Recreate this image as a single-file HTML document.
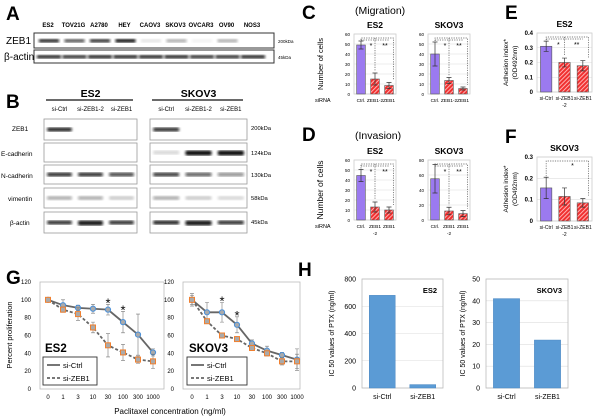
<!DOCTYPE html>
<html><head><meta charset="utf-8"><style>
body{margin:0;background:#fff}
svg{display:block;font-family:"Liberation Sans",sans-serif}
</style></head><body>
<svg id="fig" width="600" height="419" viewBox="0 0 600 419" xmlns="http://www.w3.org/2000/svg">
<defs>
<pattern id="hatch" width="3" height="3" patternUnits="userSpaceOnUse" patternTransform="rotate(45)">
<rect width="3" height="3" fill="#f03030"/><rect width="1" height="3" fill="#ffb0b0"/>
</pattern>
<filter id="blur1"><feGaussianBlur stdDeviation="1.2"/></filter>
</defs>
<g font-weight="bold" font-size="19">
<text x="6" y="20">A</text>
<text x="6" y="108">B</text>
<text x="302" y="19">C</text>
<text x="302" y="141">D</text>
<text x="505" y="19">E</text>
<text x="505" y="143">F</text>
<text x="6" y="284">G</text>
<text x="298" y="276">H</text>
</g>
<text x="355" y="14" font-size="10.5">(Migration)</text>
<text x="355" y="139" font-size="10.5">(Invasion)</text>
<g id="blots"></g>
<g id="charts"></g>
</svg>
<script>
// ---------- data ----------
const cellLinesA = ["ES2","TOV21G","A2780","HEY","CAOV3","SKOV3","OVCAR3","OV90","NOS3"];
const zeb1BandA = [0.9,0.7,0.85,1.0,0.1,0.35,0.05,0.3,0.0];
const actinBandA = [0.9,0.85,0.9,0.9,0.9,0.9,0.85,0.85,0.9];
const lanesB = ["si-Ctrl","si-ZEB1-2","si-ZEB1"];
const lanesBSkov = ["si-Ctrl","si-ZEB1-2","si-ZEB1"];
const rowsB = ["ZEB1","E-cadherin","N-cadherin","vimentin","β-actin"];
const kdaB = ["200kDa","124kDa","130kDa","58kDa","45kDa"];
const es2BandB = [[0.9,0,0],[0,0,0],[0.85,0.85,0.75],[0.35,0.35,0.2],[0.85,0.95,0.85]];
const skovBandB = [[0.85,0,0],[0.15,1,1],[0.8,0.65,0.45],[0.35,0.2,0.15],[0.9,0.95,0.85]];

const barCats = ["Ctrl.","ZEB1-2","ZEB1"];
const migES2 = [49,15,8.5], migES2Err = [4,6,3];
const migSKOV = [40,13.5,5.5], migSKOVErr = [12,3,1.5];
const invES2 = [44.5,13,10], invES2Err = [6,5,3];
const invSKOV = [55,12,8.5], invSKOVErr = [19,5,4];
const adhCats = ["si-Ctrl","si-ZEB1","si-ZEB1"];
const adhES2 = [0.31,0.2,0.178], adhES2Err = [0.035,0.03,0.035];
const adhSKOV = [0.155,0.115,0.085], adhSKOVErr = [0.05,0.04,0.02];

const concLabels = ["0","1","3","10","30","100","300","1000"];
const es2Ctrl = [100,94,91,90,89,75,61,41], es2CtrlErr = [0,6,3,5,6,12,23,4];
const es2Zeb = [100,89,84,69,49,41,33,31], es2ZebErr = [0,3,7,6,13,9,4,8];
const skovCtrl = [100,86,86,72,51,43,38,33], skovCtrlErr = [7,11,11,9,4,5,3,12];
const skovZeb = [100,76,60,56,46,40,31,31], skovZebErr = [5,2,3,2,3,3,4,8];
const gTicks = [0,20,40,60,80,100,120];

const icCats = ["si-Ctrl","si-ZEB1"];
const icES2 = [680,25];
const icSKOV = [41,22];
const icES2Ticks = [0,200,400,600,800];
const icSKOVTicks = [0,10,20,30,40,50];

// ---------- helpers ----------
const NS="http://www.w3.org/2000/svg";
function mk(tag,attrs,parent,txt){const e=document.createElementNS(NS,tag);for(const k in attrs)e.setAttribute(k,attrs[k]);if(txt!==undefined)e.textContent=txt;parent.appendChild(e);return e;}
const blots=document.getElementById('blots'), charts=document.getElementById('charts');

// ---------- Panel A ----------
(function(){
  const x0=36,dx=25.5;
  cellLinesA.forEach((n,i)=>{const t=mk('text',{x:x0+12+i*dx,y:27,'font-size':6,'font-weight':'bold','text-anchor':'middle'},blots,n);
    
    });
  const b1=mk('rect',{x:34,y:33,width:240,height:15,fill:'#fff',stroke:'#333','stroke-width':1},blots);
  
  
  const b2=mk('rect',{x:34,y:50,width:240,height:13,fill:'#fff',stroke:'#333','stroke-width':1},blots);
  
  
  zeb1BandA.forEach((v,i)=>{if(v<=0)return;const r=mk('rect',{x:x0+3+i*dx,y:39,width:20,height:3.5,fill:'#111','fill-opacity':v,filter:'url(#blur1)'},blots);
    
    });
  actinBandA.forEach((v,i)=>{const r=mk('rect',{x:x0+1+i*dx,y:55,width:24,height:3.5,fill:'#111','fill-opacity':v,filter:'url(#blur1)'},blots);
    
    });
  const l1=mk('text',{x:6,y:44,'font-size':10},blots,'ZEB1');
  
  
  const l2=mk('text',{x:4,y:60,'font-size':10},blots,'β-actin');
  
  
  const k1=mk('text',{x:278,y:43,'font-size':4.5},blots,'200kDa');
  
  
  const k2=mk('text',{x:278,y:59,'font-size':4.5},blots,'45kDa');
  
  
})();

// ---------- Panel B ----------
(function(){
  const rowsY=[[119,140],[143,162],[165,184],[188,208],[212,233]];
  function group(x0,x1,title,lanes,bands,lx){
    const t=mk('text',{x:(x0+x1)/2,y:97,'font-size':10.5,'font-weight':'bold','text-anchor':'middle'},blots,title);
    
    
    const ln=mk('line',{x1:x0+2,x2:x1-4,y1:100,y2:100,stroke:'#111','stroke-width':1.2},blots);
    
    
    const w=(x1-x0)/3;
    lanes.forEach((n,i)=>{const s=mk('text',{x:x0+w*i+w/2,y:111,'font-size':6,'text-anchor':'middle'},blots,n);
      
      });
    rowsY.forEach((ry,r)=>{
      const b=mk('rect',{x:x0,y:ry[0],width:x1-x0,height:ry[1]-ry[0],fill:'#fff',stroke:'#999','stroke-width':0.8},blots);
      
      
      bands[r].forEach((v,i)=>{if(v<=0)return;const cy=(ry[0]+ry[1])/2-2;
        const band=mk('rect',{x:x0+w*i+3,y:cy,width:w-6,height:v>0.9?5:4,rx:2,fill:'#111','fill-opacity':v,filter:'url(#blur1)'},blots);
        
        });
    });
  }
  group(44,137,'ES2',lanesB,es2BandB);
  group(150,247,'SKOV3',lanesBSkov,skovBandB);
  const rowsYc=[131,156,178,201,225];
  rowsB.forEach((n,r)=>{const t=mk('text',{x:r==0?12:(r==3?8:(r==4?10:1)),y:rowsYc[r],'font-size':6.5},blots,n);
    
    
    const k=mk('text',{x:251,y:rowsYc[r]-1,'font-size':5.8},blots,kdaB[r]);
    
    });
})();

// ---------- bar charts C/D/E/F ----------
function barChart(o){
  const g=mk('g',{},charts);
  
  
  const {x0,x1,yTop,yBot,max}=o;
  const ys=v=>yBot-(v/max)*(yBot-yTop);
  o.ticks.forEach(t=>{
    const gl=mk('line',{x1:x0,x2:x1,y1:ys(t),y2:ys(t),stroke:'#ddd','stroke-width':0.6},g);
    
    
    const tl=mk('text',{x:x0-4,y:ys(t)+2,'font-size':o.tfs,'text-anchor':'end','font-weight':o.tfs>5?'bold':'normal'},g,o.tickFmt?o.tickFmt(t):t);
    
    
  });
  const box=mk('rect',{x:x0,y:yTop,width:x1-x0,height:yBot-yTop,fill:'none',stroke:'#ccc','stroke-width':0.8},g);
  
  
  const n=o.values.length,w=(x1-x0)/n,bw=w*0.62;
  const cx=[];
  o.values.forEach((v,i)=>{
    const x=x0+w*i+(w-bw)/2;cx.push(x+bw/2);
    const r=mk('rect',{x:x,y:ys(v),width:bw,height:yBot-ys(v),fill:i==0?'#9b7af0':'url(#hatch)',stroke:'#555','stroke-width':0.6},g);
    
    
    const e=o.errs[i],ex=x+bw/2;
    const el=mk('path',{d:`M${ex},${ys(v+e)}V${ys(v-e)}M${ex-2.5},${ys(v+e)}H${ex+2.5}M${ex-2.5},${ys(v-e)}H${ex+2.5}`,stroke:'#333','stroke-width':0.7,fill:'none'},g);
    
    
    const lab=o.catLabels[i];
    lab.forEach((s,j)=>{const tl=mk('text',{x:ex,y:yBot+8+j*7,'font-size':o.xfs||5.5,'text-anchor':'middle'},g,s);
      
      });
  });
  const tt=mk('text',{x:(x0+x1)/2,y:yTop-6,'font-size':8.5,'font-weight':'bold','text-anchor':'middle'},g,o.title);
  
  
  if(o.ylab){
    const yl=mk('text',{transform:`translate(${o.ylx},${(yTop+yBot)/2}) rotate(-90)`,'font-size':o.ylfs,'text-anchor':'middle'},g);
    
    
    o.ylab.forEach((s,j)=>{mk('tspan',{x:0,dy:j?9:0},yl,s);});
  }
  const by=yTop+4;
  const dash={stroke:'#555','stroke-width':0.7,'stroke-dasharray':'1.2,1.2',fill:'none'};
  if(o.sigAll){
    const p=mk('path',Object.assign({d:`M${cx[0]},${ys(o.values[0]+o.errs[0])-1}V${by}H${cx[2]+bw/2}V${ys(o.values[2]+o.errs[2])-3}`},dash),g);
    
    
    const s=mk('text',{x:(cx[0]+cx[2])/2+8,y:by+7,'font-size':7,'text-anchor':'middle'},g,'*');
    
    
  } else {
    const p=mk('path',Object.assign({d:`M${cx[0]},${ys(o.values[0]+o.errs[0])-1}V${by}H${cx[2]+bw/2}V${ys(o.values[2]+o.errs[2])-2}M${cx[1]},${by}V${ys(o.values[1]+o.errs[1])-2}M${cx[0]},${by+2}H${cx[2]}`},dash),g);
    
    
    const s1=mk('text',{x:(cx[0]+cx[1])/2+3,y:by+10,'font-size':7,'text-anchor':'middle'},g,'*');
    
    
    const s2=mk('text',{x:(cx[1]+cx[2])/2+3,y:by+10,'font-size':7,'text-anchor':'middle'},g,'**');
    
    
  }
}
const c1=[["Ctrl."],["ZEB1-2"],["ZEB1"]], c2=[["Ctrl."],["ZEB1","-2"],["ZEB1"]], c3=[["si-Ctrl"],["si-ZEB1","-2"],["si-ZEB1"]];
barChart({name:'migration-es2-chart',title:'ES2',x0:354,x1:396,yTop:34,yBot:94,max:60,ticks:[0,10,20,30,40,50,60],tfs:4.5,xfs:4.8,values:migES2,errs:migES2Err,cats:barCats,catLabels:c1,ylab:['Number of cells'],ylx:323,ylfs:7.5});
barChart({name:'migration-skov3-chart',title:'SKOV3',x0:428,x1:470,yTop:34,yBot:94,max:60,ticks:[0,10,20,30,40,50,60],tfs:4.5,xfs:4.8,values:migSKOV,errs:migSKOVErr,cats:barCats,catLabels:c1});
barChart({name:'invasion-es2-chart',title:'ES2',x0:354,x1:396,yTop:160,yBot:220,max:60,ticks:[0,10,20,30,40,50,60],tfs:4.5,xfs:4.8,values:invES2,errs:invES2Err,cats:barCats,catLabels:c2,ylab:['Number of cells'],ylx:323,ylfs:8.5});
barChart({name:'invasion-skov3-chart',title:'SKOV3',x0:428,x1:470,yTop:160,yBot:220,max:80,ticks:[0,20,40,60,80],tfs:4.5,xfs:4.8,values:invSKOV,errs:invSKOVErr,cats:barCats,catLabels:c2});
barChart({name:'adhesion-es2-chart',title:'ES2',x0:537,x1:592,yTop:33,yBot:92,max:0.4,ticks:[0,0.1,0.2,0.3,0.4],tfs:6,xfs:5,values:adhES2,errs:adhES2Err,cats:adhCats,catLabels:c3,ylab:['Adhesion index*','(OD492nm)'],ylx:508,ylfs:6.5});
barChart({name:'adhesion-skov3-chart',title:'SKOV3',x0:537,x1:592,yTop:157,yBot:221,max:0.3,ticks:[0,0.1,0.2,0.3],tfs:6,xfs:5,values:adhSKOV,errs:adhSKOVErr,cats:adhCats,catLabels:c3,ylab:['Adhesion index*','(OD492nm)'],ylx:508,ylfs:6.5,sigAll:true});
[[315,102],[315,228]].forEach(p=>{const t=mk('text',{x:p[0],y:p[1],'font-size':5.5},charts,'siRNA');
  
  });

// ---------- Panel G line charts ----------
function lineChart(o){
  const g=mk('g',{},charts);
  
  
  const {x0,x1,yTop,yBot,px0,px1}=o;
  const ys=v=>yBot-(v/120)*(yBot-yTop);
  const xs=i=>px0+i*(px1-px0)/(concLabels.length-1);
  const box=mk('rect',{x:x0,y:yTop,width:x1-x0,height:yBot-yTop,fill:'#fff',stroke:'#bbb','stroke-width':0.8},g);
  
  
  gTicks.forEach(t=>{const tl=mk('text',{x:x0-9,y:ys(t)+2,'font-size':6,'text-anchor':'end'},g,t);
    
    });
  concLabels.forEach((s,i)=>{const tl=mk('text',{x:xs(i),y:yBot+10,'font-size':6,'text-anchor':'middle'},g,s);
    
    });
  function series(vals,errs,dashed,name){
    errs.forEach((e,i)=>{if(!e)return;const x=xs(i);
      const p=mk('path',{d:`M${x},${ys(vals[i]+e)}V${ys(vals[i]-e)}M${x-2},${ys(vals[i]+e)}H${x+2}M${x-2},${ys(vals[i]-e)}H${x+2}`,stroke:'#777','stroke-width':0.6,fill:'none'},g);
      
      });
    const pl=mk('polyline',{points:vals.map((v,i)=>xs(i)+','+ys(v)).join(' '),fill:'none',stroke:'#666','stroke-width':1.8,'stroke-dasharray':dashed?'3,2':'none'},g);
    
    
    vals.forEach((v,i)=>{let m;
      if(dashed) m=mk('rect',{x:xs(i)-2.5,y:ys(v)-2.5,width:5,height:5,fill:'#aaa',stroke:'#f08030','stroke-width':1},g);
      else m=mk('circle',{cx:xs(i),cy:ys(v),r:2.6,fill:'#aaa',stroke:'#4a90d9','stroke-width':1},g);
      
      });
  }
  series(o.ctrl,o.ctrlErr,false,'si-ctrl');
  series(o.zeb,o.zebErr,true,'si-zeb1');
  o.stars.forEach(i=>{const s=mk('text',{x:xs(i),y:ys(o.ctrl[i]+o.ctrlErr[i])+3,'font-size':13,'text-anchor':'middle'},g,'*');
    
    });
  const lb=mk('text',{x:o.lx+2,y:352,'font-size':11.5,'font-weight':'bold'},g,o.title);
  
  
  const lg=mk('g',{},g);
  
  
  mk('rect',{x:o.lx,y:357,width:o.lw,height:28,fill:'#fff',stroke:'#333','stroke-width':0.9},lg);
  const e1=mk('line',{x1:o.lx+4,x2:o.lx+17,y1:365,y2:365,stroke:'#666','stroke-width':1.8},lg);
  
  
  mk('text',{x:o.lx+20,y:368,'font-size':7.5},lg,'si-Ctrl');
  const e2=mk('line',{x1:o.lx+4,x2:o.lx+17,y1:378,y2:378,stroke:'#666','stroke-width':1.8,'stroke-dasharray':'3,2'},lg);
  
  
  mk('text',{x:o.lx+20,y:381,'font-size':7.5},lg,'si-ZEB1');
}
lineChart({name:'proliferation-es2-chart',title:'ES2',x0:40,x1:164,yTop:282,yBot:389,px0:48,px1:153,ctrl:es2Ctrl,ctrlErr:es2CtrlErr,zeb:es2Zeb,zebErr:es2ZebErr,stars:[4,5],lx:43,lw:54});
lineChart({name:'proliferation-skov3-chart',title:'SKOV3',x0:183,x1:300,yTop:282,yBot:389,px0:192,px1:297,ctrl:skovCtrl,ctrlErr:skovCtrlErr,zeb:skovZeb,zebErr:skovZebErr,stars:[2,3],lx:187,lw:60});
(function(){
  const y=mk('text',{transform:'translate(12,335) rotate(-90)','font-size':7.5,'text-anchor':'middle'},charts,'Percent proliferation');
  
  
  const x=mk('text',{x:170,y:414,'font-size':8,'text-anchor':'middle'},charts,'Paclitaxel concentration (ng/ml)');
  
  
})();

// ---------- Panel H ----------
function icChart(o){
  const g=mk('g',{},charts);
  
  
  const {x0,x1,yTop,yBot,ticks}=o;const max=ticks[ticks.length-1];
  const ys=v=>yBot-(v/max)*(yBot-yTop);
  ticks.forEach(t=>{
    const gl=mk('line',{x1:x0,x2:x1,y1:ys(t),y2:ys(t),stroke:'#ddd','stroke-width':0.6},g);
    
    
    const tl=mk('text',{x:x0-6,y:ys(t)+2.5,'font-size':7,'text-anchor':'end'},g,t);
    
    });
  const box=mk('rect',{x:x0,y:yTop,width:x1-x0,height:yBot-yTop,fill:'none',stroke:'#bbb','stroke-width':0.8},g);
  
  
  const w=(x1-x0)/2,bw=w*0.64;
  o.values.forEach((v,i)=>{const x=x0+w*i+(w-bw)/2;
    const r=mk('rect',{x:x,y:ys(v),width:bw,height:yBot-ys(v),fill:'#5b9bd5',stroke:'#4a86c0','stroke-width':0.5},g);
    
    
    const tl=mk('text',{x:x+bw/2,y:yBot+11,'font-size':7,'text-anchor':'middle'},g,icCats[i]);
    
    });
  const t=mk('text',{x:x1-6,y:yTop+14,'font-size':7.5,'font-weight':'bold','text-anchor':'end'},g,o.title);
  
  
  const yl=mk('text',{transform:`translate(${o.ylx},${(yTop+yBot)/2}) rotate(-90)`,'font-size':7,'text-anchor':'middle'},g,'IC 50 values of PTX (ng/ml)');
  
  
}
icChart({name:'ic50-es2-chart',title:'ES2',x0:362,x1:443,yTop:279,yBot:388,ticks:icES2Ticks,values:icES2,ylx:334});
icChart({name:'ic50-skov3-chart',title:'SKOV3',x0:486,x1:568,yTop:279,yBot:388,ticks:icSKOVTicks,values:icSKOV,ylx:465});
</script>
</body></html>
